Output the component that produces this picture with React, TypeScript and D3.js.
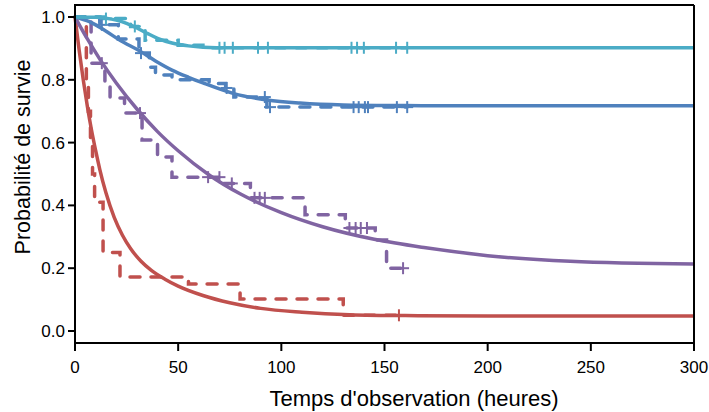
import React from "react";
import * as d3 from "d3";

// ---- data ----
const timeTicks = [0, 50, 100, 150, 200, 250, 300];
const probTicks = [0, 0.2, 0.4, 0.6, 0.8, 1.0];

// fitted (smooth) curves
const cyanFitT = [0, 10, 15, 20, 25, 30, 35, 40, 47, 55, 62, 75, 100, 300];
const cyanFitV = [1, 0.999, 0.996, 0.99, 0.98, 0.965, 0.948, 0.932, 0.917, 0.908, 0.904, 0.902, 0.902, 0.902];

const blueFitT = [0, 7, 14.5, 22, 31, 39, 47, 55, 62, 77, 93, 109, 130, 160, 200, 300];
const blueFitV = [1, 0.985, 0.957, 0.925, 0.893, 0.86, 0.831, 0.808, 0.79, 0.756, 0.736, 0.726, 0.72, 0.718, 0.717, 0.717];

const purpleFitT = [0, 6, 12, 20, 30, 40, 50, 65, 80, 100, 120, 145, 170, 200, 240, 300];
const purpleFitV = [1, 0.93, 0.866, 0.79, 0.707, 0.635, 0.574, 0.497, 0.437, 0.377, 0.332, 0.292, 0.265, 0.24, 0.222, 0.213];

const redFitT = [0, 2, 4, 6, 8, 10, 12, 15, 19, 23, 27, 32, 37, 43.6, 50, 62, 75, 90, 110, 133, 160, 200, 300];
const redFitV = [1, 0.895, 0.8, 0.715, 0.64, 0.575, 0.515, 0.44, 0.362, 0.305, 0.262, 0.222, 0.193, 0.165, 0.143, 0.113, 0.09, 0.072, 0.06, 0.052, 0.049, 0.048, 0.048];

// Kaplan-Meier step curves
const cyanKmT = [0, 14, 27, 34, 50, 62, 161];
const cyanKmV = [1, 0.995, 0.97, 0.926, 0.91, 0.902, 0.902];
const cyanCens = [15, 29, 70, 72.5, 76.5, 88.7, 93.5, 134, 136.7, 140, 155.6, 161];

const blueKmT = [0, 12, 21, 31, 36, 39, 47, 65, 73, 77, 93, 161];
const blueKmV = [1, 0.975, 0.93, 0.885, 0.84, 0.815, 0.8, 0.788, 0.774, 0.745, 0.713, 0.713];
const blueCens = [13, 32, 73.5, 92, 94.5, 135, 137.5, 140.5, 142, 156, 161];

const purpleKmT = [0, 7.8, 14.5, 17, 24, 32.5, 40, 47, 72, 85, 111.5, 131, 145.5, 151, 159];
const purpleKmV = [1, 0.853, 0.79, 0.742, 0.694, 0.608, 0.554, 0.49, 0.47, 0.424, 0.37, 0.328, 0.29, 0.2, 0.2];
const purpleCens = [13, 31.5, 64.5, 70, 76, 87, 89.5, 92, 133, 136, 138.5, 141.5, 159];

const redKmT = [0, 5.5, 6.5, 7.5, 8.5, 9.5, 13.6, 21.8, 55, 80, 130, 157];
const redKmV = [1, 0.8, 0.7, 0.6, 0.5, 0.41, 0.25, 0.172, 0.15, 0.102, 0.05, 0.05];
const redCens = [157];

const series = [
  { name: "red", color: "#c0504d", fitT: redFitT, fitV: redFitV, kmT: redKmT, kmV: redKmV, cens: redCens },
  { name: "purple", color: "#8064a2", fitT: purpleFitT, fitV: purpleFitV, kmT: purpleKmT, kmV: purpleKmV, cens: purpleCens },
  { name: "blue", color: "#4f81bd", fitT: blueFitT, fitV: blueFitV, kmT: blueKmT, kmV: blueKmV, cens: blueCens },
  { name: "cyan", color: "#4bacc6", fitT: cyanFitT, fitV: cyanFitV, kmT: cyanKmT, kmV: cyanKmV, cens: cyanCens },
];

const W = 709;
const H = 412;
const FONT = "'Liberation Sans', Arial, Helvetica, sans-serif";

function kmAt(T: number[], V: number[], t: number) {
  let v = V[0];
  for (let i = 0; i < T.length; i++) if (T[i] <= t) v = V[i];
  return v;
}

export default function App() {
  const left = 75, right = 694, top = 5, bottom = 343;
  const x = d3.scaleLinear().domain([0, 300]).range([left, right]);
  const y = d3.scaleLinear().domain([0, 1]).range([331, 17]);

  const smooth = d3
    .line<[number, number]>()
    .x((d) => x(d[0]))
    .y((d) => y(d[1]))
    .curve(d3.curveMonotoneX);
  const step = d3
    .line<[number, number]>()
    .x((d) => x(d[0]))
    .y((d) => y(d[1]))
    .curve(d3.curveStepAfter);

  return (
    <svg width={W} height={H} style={{ position: "absolute", left: 0, top: 0, background: "#fff" }}>
      <rect x={0} y={0} width={W} height={H} fill="#fff" />
      {/* KM dashed curves */}
      {series.map((s) => (
        <path
          key={"km" + s.name}
          d={step(s.kmT.map((t, i) => [t, s.kmV[i]] as [number, number])) || ""}
          fill="none"
          stroke={s.color}
          strokeWidth={3.5}
          strokeDasharray="10,11"
          strokeLinecap="round"
        />
      ))}
      {/* fitted curves */}
      {series.map((s) => (
        <path
          key={"fit" + s.name}
          d={smooth(s.fitT.map((t, i) => [t, s.fitV[i]] as [number, number])) || ""}
          fill="none"
          stroke={s.color}
          strokeWidth={3.5}
        />
      ))}
      {/* censor marks */}
      {series.map((s) =>
        s.cens.map((t, i) => {
          const cx = x(t);
          const cy = y(kmAt(s.kmT, s.kmV, t));
          return (
            <g key={"c" + s.name + i} stroke={s.color} strokeWidth={2}>
              <line x1={cx - 6} x2={cx + 6} y1={cy} y2={cy} />
              <line x1={cx} x2={cx} y1={cy - 6} y2={cy + 6} />
            </g>
          );
        })
      )}
      {/* frame */}
      <line x1={left} x2={right} y1={top} y2={top} stroke="#000" strokeWidth={2} />
      <line x1={right} x2={right} y1={top} y2={bottom} stroke="#000" strokeWidth={2} />
      <line x1={left} x2={right + 1} y1={bottom} y2={bottom} stroke="#000" strokeWidth={2} />
      <line x1={left} x2={left} y1={top - 1} y2={bottom + 1} stroke="#000" strokeWidth={2} />
      {/* y ticks */}
      {probTicks.map((v) => (
        <g key={"yt" + v}>
          <line x1={left - 7} x2={left} y1={y(v)} y2={y(v)} stroke="#000" strokeWidth={2} />
          <text
            x={left - 10}
            y={y(v)}
            dy="0.35em"
            textAnchor="end"
            fontFamily={FONT}
            fontSize={17}
            fill="#000"
          >
            {v.toFixed(1)}
          </text>
        </g>
      ))}
      {/* x ticks */}
      {timeTicks.map((t) => (
        <g key={"xt" + t}>
          <line x1={x(t)} x2={x(t)} y1={bottom} y2={bottom + 8} stroke="#000" strokeWidth={2} />
          <text
            x={x(t)}
            y={bottom + 24}
            dy="0.35em"
            textAnchor="middle"
            fontFamily={FONT}
            fontSize={17}
            fill="#000"
          >
            {t}
          </text>
        </g>
      ))}
      <text
        x={414}
        y={398}
        dy="0.35em"
        textAnchor="middle"
        fontFamily={FONT}
        fontSize={22}
        fill="#000"
      >
        Temps d'observation (heures)
      </text>
      <text
        transform={`translate(22,157) rotate(-90)`}
        dy="0.35em"
        textAnchor="middle"
        fontFamily={FONT}
        fontSize={21.5}
        fill="#000"
      >
        Probabilité de survie
      </text>
    </svg>
  );
}
